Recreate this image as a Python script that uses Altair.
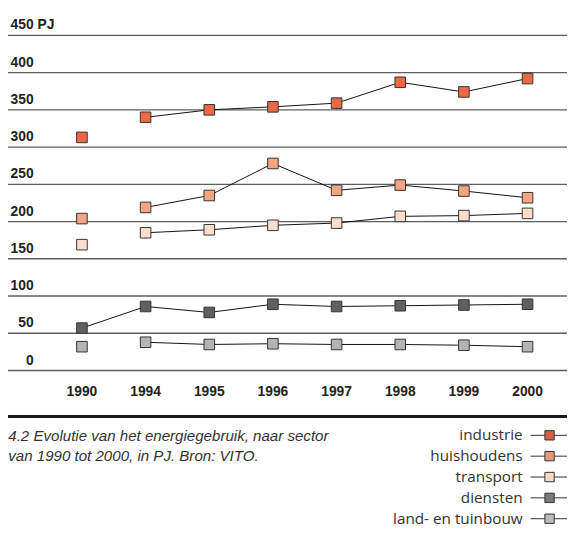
import altair as alt
import pandas as pd

# ---------------- data ----------------
years = ["1990", "1994", "1995", "1996", "1997", "1998", "1999", "2000"]
sectors = ["industrie", "huishoudens", "transport", "diensten", "land- en tuinbouw"]
industrie = [313, 340, 350, 354, 359, 387, 374, 392]
huishoudens = [204, 219, 235, 278, 242, 249, 241, 232]
transport = [169, 185, 189, 195, 198, 207, 208, 211]
diensten = [57, 86, 78, 89, 86, 87, 88, 89]
landbouw = [32, 38, 35, 36, 35, 35, 34, 32]
connected_from_1990 = ["diensten"]

y_ticks = [0, 50, 100, 150, 200, 250, 300, 350, 400, 450]
y_labels = ["0", "50", "100", "150", "200", "250", "300", "350", "400", "450"]
unit = "PJ"
caption_lines = [
    "4.2 Evolutie van het energiegebruik, naar sector",
    "van 1990 tot 2000, in PJ. Bron: VITO.",
]

series_colors = ["#ED6946", "#F5A582", "#FDDECE", "#606060", "#B4B4B4"]
legend_colors = ["#D65F45", "#E39A82", "#F7D9CB", "#7A7A7E", "#BBBBBF"]

# ---------------- tables ----------------
series = dict(zip(sectors, [industrie, huishoudens, transport, diensten, landbouw]))
rows = []
for s in sectors:
    for y, v in zip(years, series[s]):
        rows.append({"sector": s, "year": y, "value": v,
                     "in_line": (y != "1990") or (s in connected_from_1990)})
df = pd.DataFrame(rows)
df_line = df[df["in_line"]]
df_grid = pd.DataFrame({"v": y_ticks, "label": y_labels})
df_unit = pd.DataFrame({"v": [max(y_ticks)], "label": [unit]})
df_years = pd.DataFrame({"year": years})
df_leg = pd.DataFrame({"sector": sectors})
df_one = pd.DataFrame({"a": [0]})

W, H = 567, 340
FONT = "Liberation Sans"

yscale = alt.Scale(domain=[0, 450], nice=False, zero=True)
xscale = alt.Scale(type="point", domain=years, range=[75, 527], padding=0)
legscale = alt.Scale(type="point", domain=sectors, range=[405.7, 490.3], padding=0)

X = alt.X("year:O", scale=xscale, axis=None)
Y = alt.Y("value:Q", scale=yscale, axis=None)

grid = alt.Chart(df_grid).mark_rule(color="#5e5e5e", strokeWidth=1.4).encode(
    y=alt.Y("v:Q", scale=yscale, axis=None), x=alt.value(0), x2=alt.value(W))

ylab = alt.Chart(df_grid).mark_text(
    align="right", baseline="alphabetic", dy=-6, font=FONT, fontWeight="bold",
    fontSize=14, color="#222222").encode(
    y=alt.Y("v:Q", scale=yscale, axis=None), x=alt.value(26), text="label:N")

yunit = alt.Chart(df_unit).mark_text(
    align="left", baseline="alphabetic", dy=-6, font=FONT, fontWeight="bold",
    fontSize=14, color="#222222").encode(
    y=alt.Y("v:Q", scale=yscale, axis=None), x=alt.value(30), text="label:N")

lines = alt.Chart(df_line).mark_line(color="#111111", strokeWidth=1).encode(
    x=X, y=Y, detail="sector:N")

points = alt.Chart(df).mark_square(size=115, stroke="#333333", strokeWidth=1, opacity=1).encode(
    x=X, y=Y,
    fill=alt.Fill("sector:N", scale=alt.Scale(domain=sectors, range=series_colors), legend=None))

xlab = alt.Chart(df_years).mark_text(
    align="center", baseline="alphabetic", font=FONT, fontWeight="bold",
    fontSize=14, color="#222222").encode(x=X, y=alt.value(366.3), text="year:N")

cap_rule = alt.Chart(df_one).mark_rule(color="#1a1a1a", strokeWidth=3).encode(
    x=alt.value(0), x2=alt.value(W), y=alt.value(386.7))

cap1 = alt.Chart(df_one).mark_text(
    align="left", baseline="alphabetic", font=FONT, fontStyle="italic",
    fontSize=15.3, color="#333333", text=caption_lines[0]).encode(
    x=alt.value(0.3), y=alt.value(411.3))
cap2 = alt.Chart(df_one).mark_text(
    align="left", baseline="alphabetic", font=FONT, fontStyle="italic",
    fontSize=15.3, color="#333333", text=caption_lines[1]).encode(
    x=alt.value(0.3), y=alt.value(431.3))

LY = alt.Y("sector:N", scale=legscale, axis=None)
leg_rule = alt.Chart(df_leg).mark_rule(color="#333333", strokeWidth=1).encode(
    y=LY, x=alt.value(530), x2=alt.value(W))
leg_sq = alt.Chart(df_leg).mark_square(size=90, stroke="#333333", strokeWidth=1, opacity=1).encode(
    y=LY, x=alt.value(549.3),
    fill=alt.Fill("sector:N", scale=alt.Scale(domain=sectors, range=legend_colors), legend=None))
leg_txt = alt.Chart(df_leg).mark_text(
    align="right", baseline="alphabetic", dy=5, font="Open Sans", fontSize=15.5,
    color="#333333").encode(y=LY, x=alt.value(522), text="sector:N")

chart = alt.layer(
    grid, ylab, yunit, lines, points, xlab, cap_rule, cap1, cap2, leg_rule, leg_sq, leg_txt
).resolve_scale(y="independent", fill="independent").properties(
    width=W, height=H,
    padding={"left": 0, "top": 24, "right": 0, "bottom": 158},
    autosize=alt.AutoSizeParams(type="none"),
    background="white",
).configure_view(stroke=None)

chart.save("out.html", embed_options={"renderer": "svg", "actions": False})
